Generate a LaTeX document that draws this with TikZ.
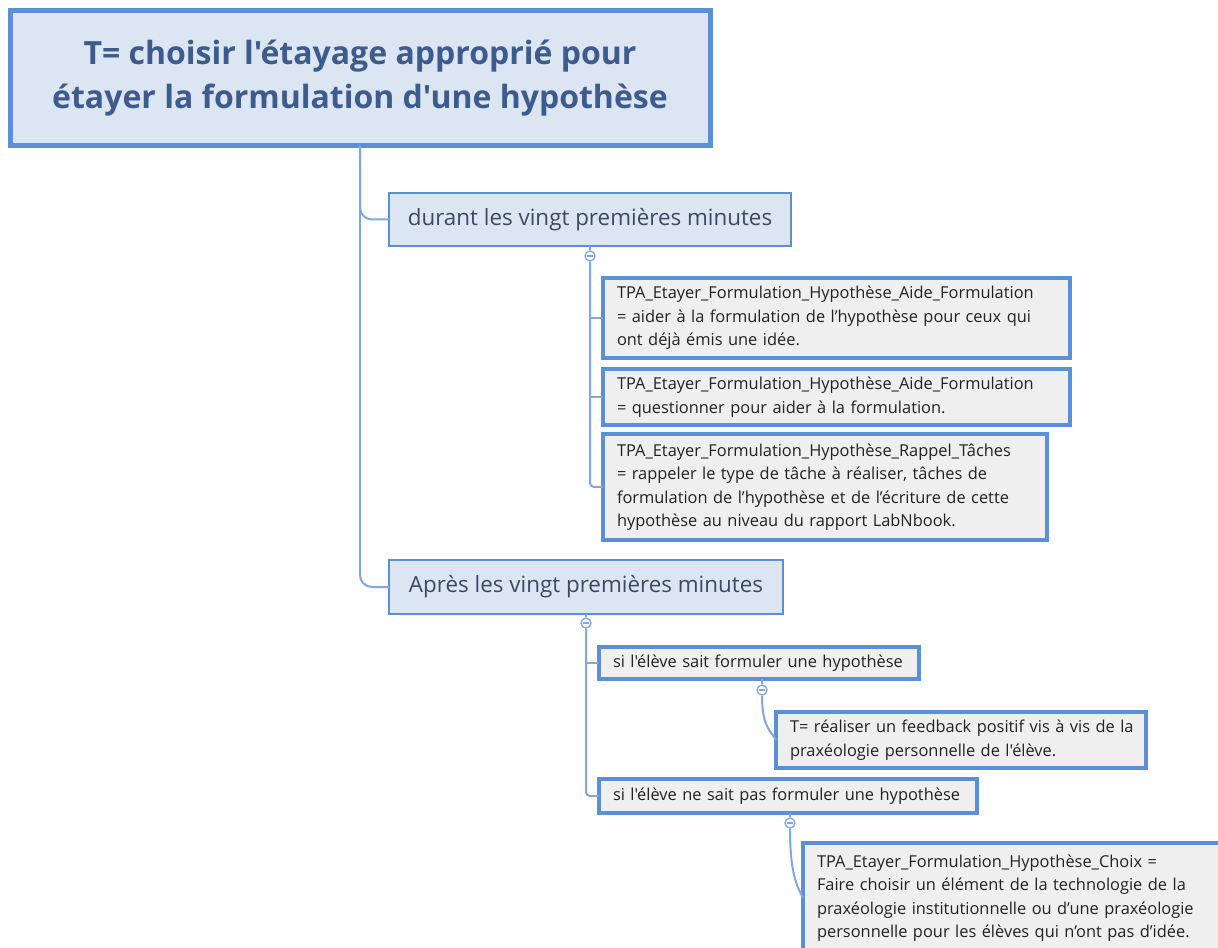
\documentclass[tikz,border=0pt]{standalone}
\usepackage{fontspec}
\setmainfont{Open Sans}[Ligatures=TeXOff]
\definecolor{bord}{HTML}{5B8FD6}
\definecolor{rootfill}{HTML}{DCE6F2}
\definecolor{leaffill}{HTML}{EFEFEF}
\definecolor{connc}{HTML}{80A8E0}
\definecolor{roottext}{HTML}{3D5B8C}
\definecolor{midtext}{HTML}{3A4A60}
\definecolor{leaftext}{HTML}{222222}
\newcommand\Ln[1]{\mbox{#1}}
\begin{document}
\begin{tikzpicture}[x=0.75pt,y=-0.75pt,
  box/.style={draw=bord, rectangle, outer sep=0pt, inner ysep=0pt},
  rootbox/.style={box, fill=rootfill, line width=3.75pt, text=roottext,
    font=\fontsize{24}{33.5}\selectfont\bfseries, align=center},
  midbox/.style={box, fill=rootfill, line width=1.8pt, text=midtext,
    font=\fontsize{16.8}{20}\selectfont, align=center},
  leafbox/.style={box, fill=leaffill, line width=2.8pt, text=leaftext,
    font=\fontsize{12.3}{17.6}\selectfont, align=left, inner xsep=10.5pt},
  conn/.style={draw=connc, line width=1.5pt},
  coll/.style={circle, draw=connc, fill=white, line width=1pt,
    minimum size=7.5pt, inner sep=0pt,
    path picture={\draw[connc, line width=0.8pt]
      ([xshift=1.7pt]path picture bounding box.west) --
      ([xshift=-1.7pt]path picture bounding box.east);}}
]
\useasboundingbox (0,0) rectangle (1218,948);
\begin{scope}
\clip (0,0) rectangle (1218,948);

% nodes
\node[rootbox, minimum width={700*0.75pt}, minimum height={135*0.75pt}] (root) at (360,78)
  {T= choisir l'étayage approprié pour\\étayer la formulation d'une hypothèse};

\node[midbox, minimum width={402*0.75pt}, minimum height={53*0.75pt}] (b1) at (590,219.5)
  {durant les vingt premières minutes};

\node[leafbox, text width={439*0.75pt}, minimum height={80*0.75pt}] (l1) at (836.5,318)
  {\Ln{TPA\_Etayer\_Formulation\_Hypothèse\_Aide\_Formulation}\\\Ln{= aider à la formulation de l’hypothèse pour ceux qui}\\\Ln{ont déjà émis une idée.}};

\node[leafbox, text width={439*0.75pt}, minimum height={56*0.75pt}] (l2) at (836.5,397)
  {\Ln{TPA\_Etayer\_Formulation\_Hypothèse\_Aide\_Formulation}\\\Ln{= questionner pour aider à la formulation.}};

\node[leafbox, text width={416*0.75pt}, minimum height={106*0.75pt}] (l3) at (825,487)
  {\Ln{TPA\_Etayer\_Formulation\_Hypothèse\_Rappel\_Tâches}\\\Ln{= rappeler le type de tâche à réaliser, tâches de}\\\Ln{formulation de l’hypothèse et de l’écriture de cette}\\\Ln{hypothèse au niveau du rapport LabNbook.}};

\node[midbox, minimum width={394*0.75pt}, minimum height={54*0.75pt}] (b2) at (586,587)
  {Après les vingt premières minutes};

\node[leafbox, text width={292*0.75pt}, minimum height={32*0.75pt}] (b3) at (759,663)
  {\Ln{si l'élève sait formuler une hypothèse}};

\node[leafbox, text width={342*0.75pt}, minimum height={56*0.75pt}] (l4) at (961,740)
  {\Ln{T= réaliser un feedback positif vis à vis de la}\\\Ln{praxéologie personnelle de l'élève.}};

\node[leafbox, text width={350*0.75pt}, minimum height={34*0.75pt}] (b4) at (788,796)
  {\Ln{si l'élève ne sait pas formuler une hypothèse}};

\node[leafbox, text width={412*0.75pt}, minimum height={110*0.75pt}] (l5) at (1023,898)
  {\Ln{TPA\_Etayer\_Formulation\_Hypothèse\_Choix =}\\\Ln{Faire choisir un élément de la technologie de la}\\\Ln{praxéologie institutionnelle ou d’une praxéologie}\\\Ln{personnelle pour les élèves qui n’ont pas d’idée.}};

% collapse markers
\node[coll] (c1) at (590,256) {};
\node[coll] (c2) at (586,623) {};
\node[coll] (c3) at (762,690) {};
\node[coll] (c4) at (790,823) {};

% connectors
\draw[conn, rounded corners=9pt] (root.south) |- (b1.west);
\draw[conn, rounded corners=9pt] (root.south) |- (b2.west);

\draw[conn] (b1.south) -- (c1.north);
\draw[conn, rounded corners=3pt] (c1.south) |- (l3.west);
\draw[conn] (c1.south |- l1.west) -- (l1.west);
\draw[conn] (c1.south |- l2.west) -- (l2.west);

\draw[conn] (b2.south) -- (c2.north);
\draw[conn, rounded corners=3pt] (c2.south) |- (b4.west);
\draw[conn] (c2.south |- b3.west) -- (b3.west);

\draw[conn] (c3.north |- b3.south) -- (c3.north);
\draw[conn] (c3.south) .. controls +(0,30) and +(-6,-10) .. (l4.west);

\draw[conn] (c4.north |- b4.south) -- (c4.north);
\draw[conn] (c4.south) .. controls +(0,45) and +(-6,-12) .. (l5.west);
\end{scope}
\end{tikzpicture}
\end{document}
